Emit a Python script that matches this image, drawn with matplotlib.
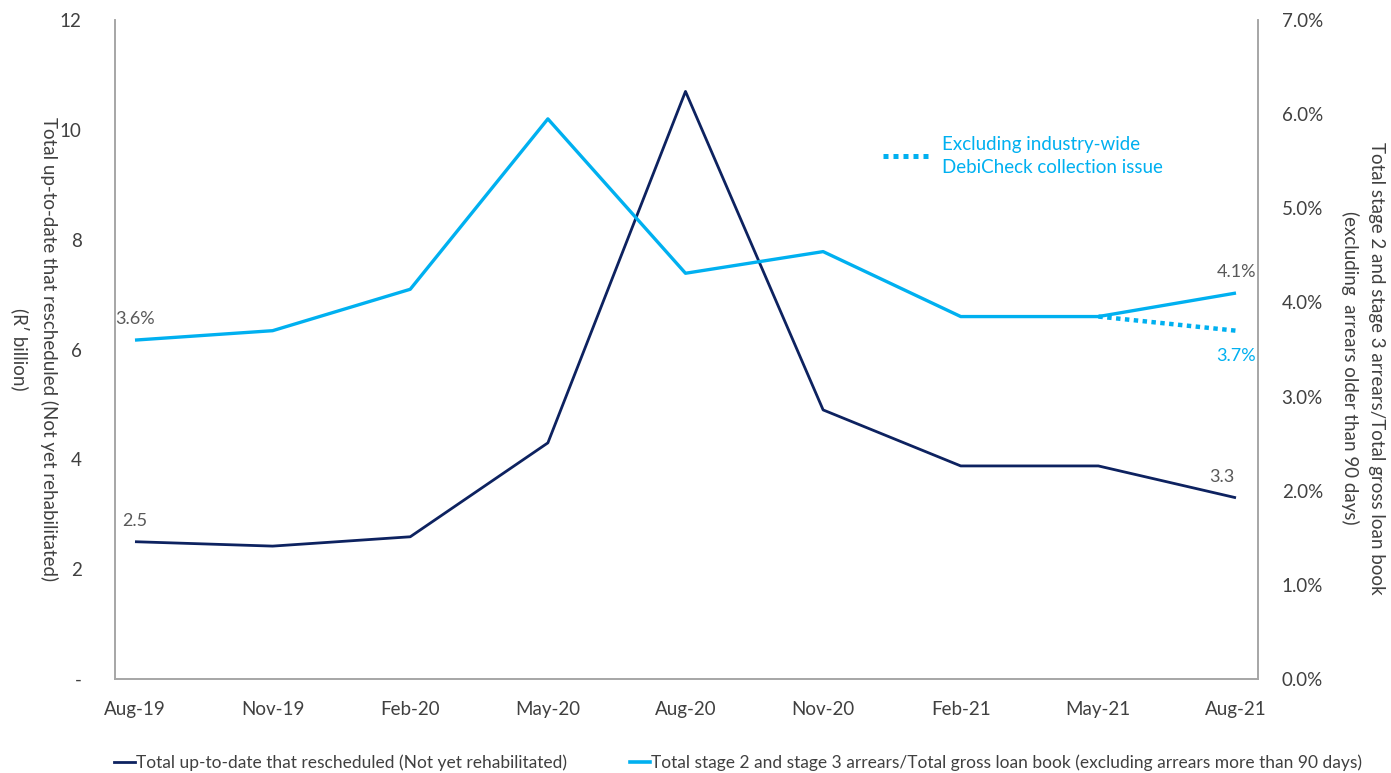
import matplotlib.pyplot as plt
from matplotlib.lines import Line2D
from matplotlib.ticker import FuncFormatter

plt.rcParams['font.family'] = ['Lato', 'DejaVu Sans']

# quarter-end dates
periods = ['Aug-19', 'Nov-19', 'Feb-20', 'May-20', 'Aug-20', 'Nov-20', 'Feb-21', 'May-21', 'Aug-21']

# R' billion, up-to-date but rescheduled
rescheduled = [2.5, 2.42, 2.59, 4.3, 10.7, 4.9, 3.88, 3.88, 3.3]
# stage 2 + stage 3 arrears as % of gross loan book
arrears_pct = [3.6, 3.7, 4.14, 5.95, 4.31, 4.54, 3.85, 3.85, 4.1]
# last quarter excluding DebiCheck collection issue
excl_periods = ['May-21', 'Aug-21']
excl_pct = [3.85, 3.7]

left_ticks = [0, 2, 4, 6, 8, 10, 12]
right_ticks = [0, 1, 2, 3, 4, 5, 6, 7]

navy = '#0d2260'
sky = '#00b0f0'
grey = '#595959'
spine_col = '#a6a6a6'

fig = plt.figure(figsize=(13.91, 7.73), dpi=100)
ax = fig.add_axes([0.0827, 0.1216, 0.8217, 0.8525])
ax2 = ax.twinx()

x = list(range(len(periods)))
xe = [periods.index(p) for p in excl_periods]

ax.plot(x, rescheduled, color=navy, lw=2.0, solid_capstyle='butt')
ax2.plot(x, arrears_pct, color=sky, lw=2.4, solid_capstyle='butt')
ax2.plot(xe, excl_pct, color=sky, lw=3.2, linestyle=(0, (1, 1)), dash_capstyle='butt')

ax.set_xlim(-0.145, 8.16)
ax.set_ylim(0, 12)
ax2.set_ylim(0, 7)
ax.set_xticks(x)
ax.set_xticklabels(periods)
ax.set_yticks(left_ticks)
ax.yaxis.set_major_formatter(FuncFormatter(lambda v, p: '-' if v == 0 else f'{v:g}'))
ax2.set_yticks(right_ticks)
ax2.yaxis.set_major_formatter(FuncFormatter(lambda v, p: f'{v:.1f}%'))

for a in (ax, ax2):
    a.spines['top'].set_visible(False)
    for s in ('left', 'right', 'bottom'):
        a.spines[s].set_color(spine_col)
        a.spines[s].set_linewidth(1.2)
    a.tick_params(length=0, labelsize=13.5, colors='#404040')
ax.tick_params(axis='y', pad=24)
ax.tick_params(axis='x', pad=16)
ax2.tick_params(axis='y', pad=17)

ax.set_ylabel("Total up-to-date that rescheduled (Not yet rehabilitated)\n(R\u2032 billion)",
              rotation=270, fontsize=13.5, color='#404040', linespacing=1.6,
              ha='center', va='center')
ax.yaxis.set_label_coords(-0.0705, 0.5)
ax2.set_ylabel("Total stage 2 and stage 3 arrears/Total gross loan book\n(excluding  arrears older than 90 days)",
               rotation=270, fontsize=13.5, color='#404040', linespacing=1.6,
               ha='center', va='center')
ax2.yaxis.set_label_coords(1.092, 0.472)

# end-point value labels
ax2.annotate(f'{arrears_pct[0]:.1f}%', (x[0], arrears_pct[0]), xytext=(0, 15),
             textcoords='offset points', ha='center', va='center', fontsize=13, color=grey)
ax.annotate(f'{rescheduled[0]:.1f}', (x[0], rescheduled[0]), xytext=(0, 15),
            textcoords='offset points', ha='center', va='center', fontsize=13, color=grey)
ax.annotate(f'{rescheduled[-1]:.1f}', (x[-1], rescheduled[-1]), xytext=(-10, 15),
            textcoords='offset points', ha='center', va='center', fontsize=13, color=grey)
ax2.annotate(f'{arrears_pct[-1]:.1f}%', (x[-1], arrears_pct[-1]), xytext=(0, 15),
             textcoords='offset points', ha='center', va='center', fontsize=13, color=grey)
ax2.annotate(f'{excl_pct[-1]:.1f}%', (xe[-1], excl_pct[-1]), xytext=(0, -18),
             textcoords='offset points', ha='center', va='center', fontsize=13, color=sky)

# in-plot key for the dotted line
dot_handle = Line2D([], [], color=sky, lw=3.6, linestyle=(0, (1, 1)), dash_capstyle='butt')
key = ax2.legend([dot_handle], ['Excluding industry-wide\nDebiCheck collection issue'],
                 loc='upper left', bbox_to_anchor=(0.657, 0.85), frameon=False, fontsize=13.5,
                 labelcolor=sky, handlelength=2.7, handletextpad=0.45)
for t in key.get_texts():
    t.set_linespacing(1.45)

# series key below the chart
h1 = Line2D([], [], color=navy, lw=2.0)
h2 = Line2D([], [], color=sky, lw=2.6)
fig.legend([h1, h2],
           ['Total up-to-date that rescheduled (Not yet rehabilitated)',
            'Total stage 2 and stage 3 arrears/Total gross loan book (excluding arrears more than 90 days)'],
           loc='lower left', bbox_to_anchor=(0.071, -0.018), ncol=2, frameon=False,
           fontsize=12.5, handlelength=1.2, handletextpad=0.05, columnspacing=3.6,
           labelcolor='#404040')

fig.savefig('out.png', dpi=100)
